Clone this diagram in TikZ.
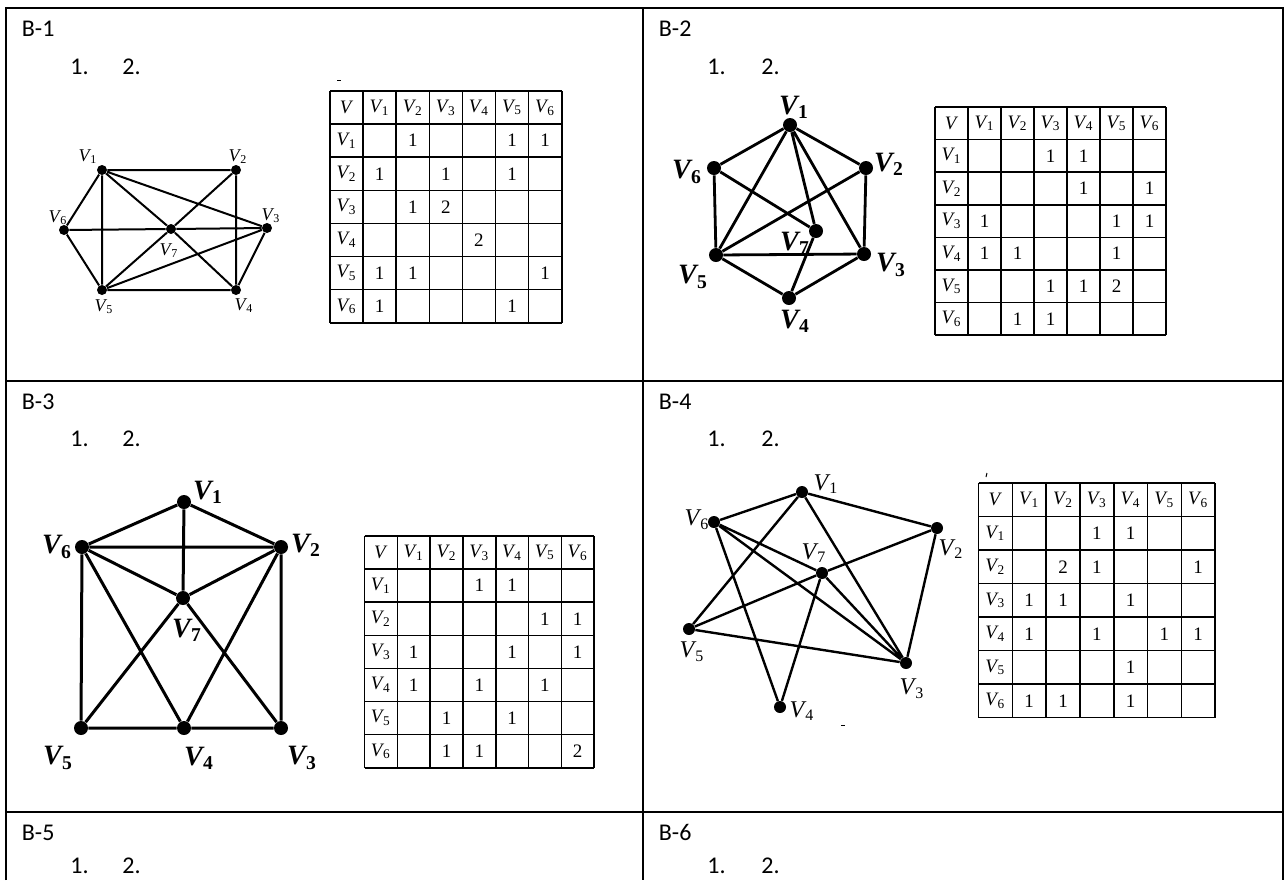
\documentclass[tikz,border=0pt]{standalone}
\usepackage{fontspec}
\setmainfont{Liberation Serif}
\newfontfamily\calibri{Carlito}

\newcommand{\vname}[1]{\textit{V}\kern-0.06em\textsubscript{#1}}

% adjacency table: name, left, top, cell width, cell height, entries col/row/value
\newcommand{\adjtable}[6]{%
  \foreach \k in {0,...,7} {
    \draw[tabline] ({#2+\k*#4},#3) -- ({#2+\k*#4},{#3+7*#5});
    \draw[tabline] (#2,{#3+\k*#5}) -- ({#2+7*#4},{#3+\k*#5});
  }
  \node[cell] (#1-v) at ({#2+0.5*#4},{#3+0.5*#5}) {\textit{V}};
  \foreach \k in {1,...,6} {
    \node[cell] (#1-c\k) at ({#2+(\k+0.5)*#4},{#3+0.5*#5}) {\vname{\k}};
    \node[cell] (#1-r\k) at ({#2+0.5*#4},{#3+(\k+0.5)*#5}) {\vname{\k}};
  }
  \foreach \c/\r/\val in {#6}
    \node[cell] (#1-\c-\r) at ({#2+(\c+0.5)*#4},{#3+(\r+0.5)*#5}) {\val};
}

\begin{document}
\begin{tikzpicture}[
x=0.5pt, y=-0.5pt,
% #region frame and headings %
frame/.style={line width=1.1pt},
heading/.style={font=\calibri\fontsize{12}{14}\selectfont, anchor=base west, inner sep=0pt},
% #endregion %
% #region graphs and tables %
vtx/.style={circle, fill=black, inner sep=0pt, minimum size=#1},
vtx/.default=5pt,
vlab/.style={font=\fontsize{#1}{#1}\selectfont, inner sep=0pt},
vlabb/.style={font=\fontsize{#1}{#1}\selectfont\bfseries, inner sep=0pt},
edge/.style={line width=#1},
tabline/.style={line width=0.8pt},
cell/.style={font=\fontsize{9.5}{9.5}\selectfont, inner sep=0pt},
% #endregion %
]
\useasboundingbox (0,0) rectangle (1286,880);

% frame
\draw[frame] (6,880) -- (6,8) -- (1283,8) -- (1283,880);
\draw[frame] (643,8) -- (643,880);
\draw[frame] (6,381) -- (1283,381);
\draw[frame] (6,812) -- (1283,812);

% headings
\node[heading] (h1) at (21.5,36.5) {B-1};
\node[heading] (h2) at (658.5,36.5) {B-2};
\node[heading] (h3) at (21.5,409.5) {B-3};
\node[heading] (h4) at (658.5,409.5) {B-4};
\node[heading] (h5) at (21.5,840) {B-5};
\node[heading] (h6) at (658.5,840) {B-6};
\node[heading] (n11) at (70,74) {1.};
\node[heading] (n12) at (122,74) {2.};
\node[heading] (n21) at (707,74) {1.};
\node[heading] (n22) at (761,74) {2.};
\node[heading] (n31) at (70,446) {1.};
\node[heading] (n32) at (122,446) {2.};
\node[heading] (n41) at (707,446) {1.};
\node[heading] (n42) at (761,446) {2.};
\node[heading] (n51) at (70,873) {1.};
\node[heading] (n52) at (122,873) {2.};
\node[heading] (n61) at (707,873) {1.};
\node[heading] (n62) at (761,873) {2.};

% B-1 graph
\node[vtx] (a1) at (102,170) {};
\node[vtx] (a2) at (236,170) {};
\node[vtx] (a3) at (267,228) {};
\node[vtx] (a4) at (236,290) {};
\node[vtx] (a5) at (102,290) {};
\node[vtx] (a6) at (64,230) {};
\node[vtx] (a7) at (171,229) {};
\node[vlab=9] at (88,157) {\vname{1}};
\node[vlab=9] at (238,157) {\vname{2}};
\node[vlab=9] at (271,216) {\vname{3}};
\node[vlab=9] at (244,306) {\vname{4}};
\node[vlab=9] at (104,307) {\vname{5}};
\node[vlab=9] at (58,218) {\vname{6}};
\node[vlab=9] at (169,251) {\vname{7}};
\draw[edge=1pt] (a1) -- (a2) (a1) -- (a6) (a1) -- (a5) (a1) -- (a7) (a7) -- (a4)
  (a1) -- (a3) (a2) -- (a4) (a2) -- (a7) (a7) -- (a5) (a6) -- (a7) (a7) -- (a3)
  (a6) -- (a5) (a5) -- (a4) (a5) -- (a3) (a4) -- (a3);
\draw[line width=0.5pt] (337,80) -- (341,80);

% B-1 table
\adjtable{ta}{330}{91}{33.1}{33.1}{2/1/1, 5/1/1, 6/1/1, 1/2/1, 3/2/1, 5/2/1, 2/3/1, 3/3/2,
  4/4/2, 1/5/1, 2/5/1, 6/5/1, 1/6/1, 5/6/1}

% B-2 graph
\node[vtx=7pt] (b1) at (790,125) {};
\node[vtx=7pt] (b2) at (866,168) {};
\node[vtx=7pt] (b3) at (864,254) {};
\node[vtx=7pt] (b4) at (789,298) {};
\node[vtx=7pt] (b5) at (716,255) {};
\node[vtx=7pt] (b6) at (714,168) {};
\node[vtx=7pt] (b7) at (816,231) {};
\node[vlabb=14] at (794,107) {\vname{1}};
\node[vlabb=14] at (889,164) {\vname{2}};
\node[vlabb=14] at (891,265) {\vname{3}};
\node[vlabb=14] at (795,321) {\vname{4}};
\node[vlabb=14] at (693,277) {\vname{5}};
\node[vlabb=14] at (687,172) {\vname{6}};
\node[vlabb=14] at (795,243) {\vname{7}};
\draw[edge=1.4pt] (b1) -- (b6) (b1) -- (b2) (b1) -- (b5) (b1) -- (b7) (b1) -- (b3)
  (b2) -- (b3) (b2) -- (b5) (b6) -- (b5) (b6) -- (b7) (b5) -- (b3) (b5) -- (b4)
  (b4) -- (b3) (b7) -- (b4);

% B-2 table
\adjtable{tb}{935}{107}{33}{32.6}{3/1/1, 4/1/1, 4/2/1, 6/2/1, 1/3/1, 5/3/1, 6/3/1,
  1/4/1, 2/4/1, 5/4/1, 3/5/1, 4/5/1, 5/5/2, 2/6/1, 3/6/1}

% B-3 graph
\node[vtx=7pt] (c1) at (184,502) {};
\node[vtx=7pt] (c2) at (281,547) {};
\node[vtx=7pt] (c3) at (281,728) {};
\node[vtx=7pt] (c4) at (184,728) {};
\node[vtx=7pt] (c5) at (81,728) {};
\node[vtx=7pt] (c6) at (82,547) {};
\node[vtx=7pt] (c7) at (183,598) {};
\node[vlabb=14] at (208,492) {\vname{1}};
\node[vlabb=14] at (306,545) {\vname{2}};
\node[vlabb=14] at (302,758) {\vname{3}};
\node[vlabb=14] at (199,758) {\vname{4}};
\node[vlabb=14] at (58,758) {\vname{5}};
\node[vlabb=14] at (57,547) {\vname{6}};
\node[vlabb=14] at (187,630) {\vname{7}};
\draw[edge=1.5pt] (c1) -- (c6) (c1) -- (c2) (c1) -- (c7) (c6) -- (c2) (c6) -- (c7)
  (c2) -- (c7) (c6) -- (c5) (c2) -- (c3) (c6) -- (c4) (c2) -- (c4) (c7) -- (c5)
  (c7) -- (c3) (c5) -- (c4) (c4) -- (c3);

% B-3 table
\adjtable{tc}{364.5}{536}{32.8}{33.1}{3/1/1, 4/1/1, 5/2/1, 6/2/1, 1/3/1, 4/3/1, 6/3/1,
  1/4/1, 3/4/1, 5/4/1, 2/5/1, 4/5/1, 2/6/1, 3/6/1, 6/6/2}

% B-4 graph
\node[vtx=6pt] (d1) at (802,492) {};
\node[vtx=6pt] (d2) at (937,528) {};
\node[vtx=6pt] (d3) at (906,663) {};
\node[vtx=6pt] (d4) at (780,707) {};
\node[vtx=6pt] (d5) at (689,629) {};
\node[vtx=6pt] (d6) at (714,522) {};
\node[vtx=6pt] (d7) at (822,573) {};
\node[vlab=12] at (826,484) {\vname{1}};
\node[vlab=12] at (951,549) {\vname{2}};
\node[vlab=12] at (912,689) {\vname{3}};
\node[vlab=12] at (802,711) {\vname{4}};
\node[vlab=12] at (692,652) {\vname{5}};
\node[vlab=12] at (697,520) {\vname{6}};
\node[vlab=12] at (814,553) {\vname{7}};
\draw[edge=1.2pt] (d1) -- (d6) (d1) -- (d2) (d1) -- (d5) (d1) -- (d3) (d6) -- (d4)
  (d6) -- (d7) (d6) -- (d3) (d7) -- (d3) (d7) -- (d4) (d7) -- (d2) (d7) -- (d5)
  (d5) -- (d3) (d2) -- (d3);
\draw[line width=0.5pt] (987,473) -- (986,477);
\draw[line width=0.5pt] (841,725) -- (845,725);

% B-4 table
\adjtable{td}{978.5}{483}{33.8}{33.5}{3/1/1, 4/1/1, 2/2/2, 3/2/1, 6/2/1, 1/3/1, 2/3/1,
  4/3/1, 1/4/1, 3/4/1, 5/4/1, 6/4/1, 4/5/1, 1/6/1, 2/6/1, 4/6/1}

\end{tikzpicture}
\end{document}
